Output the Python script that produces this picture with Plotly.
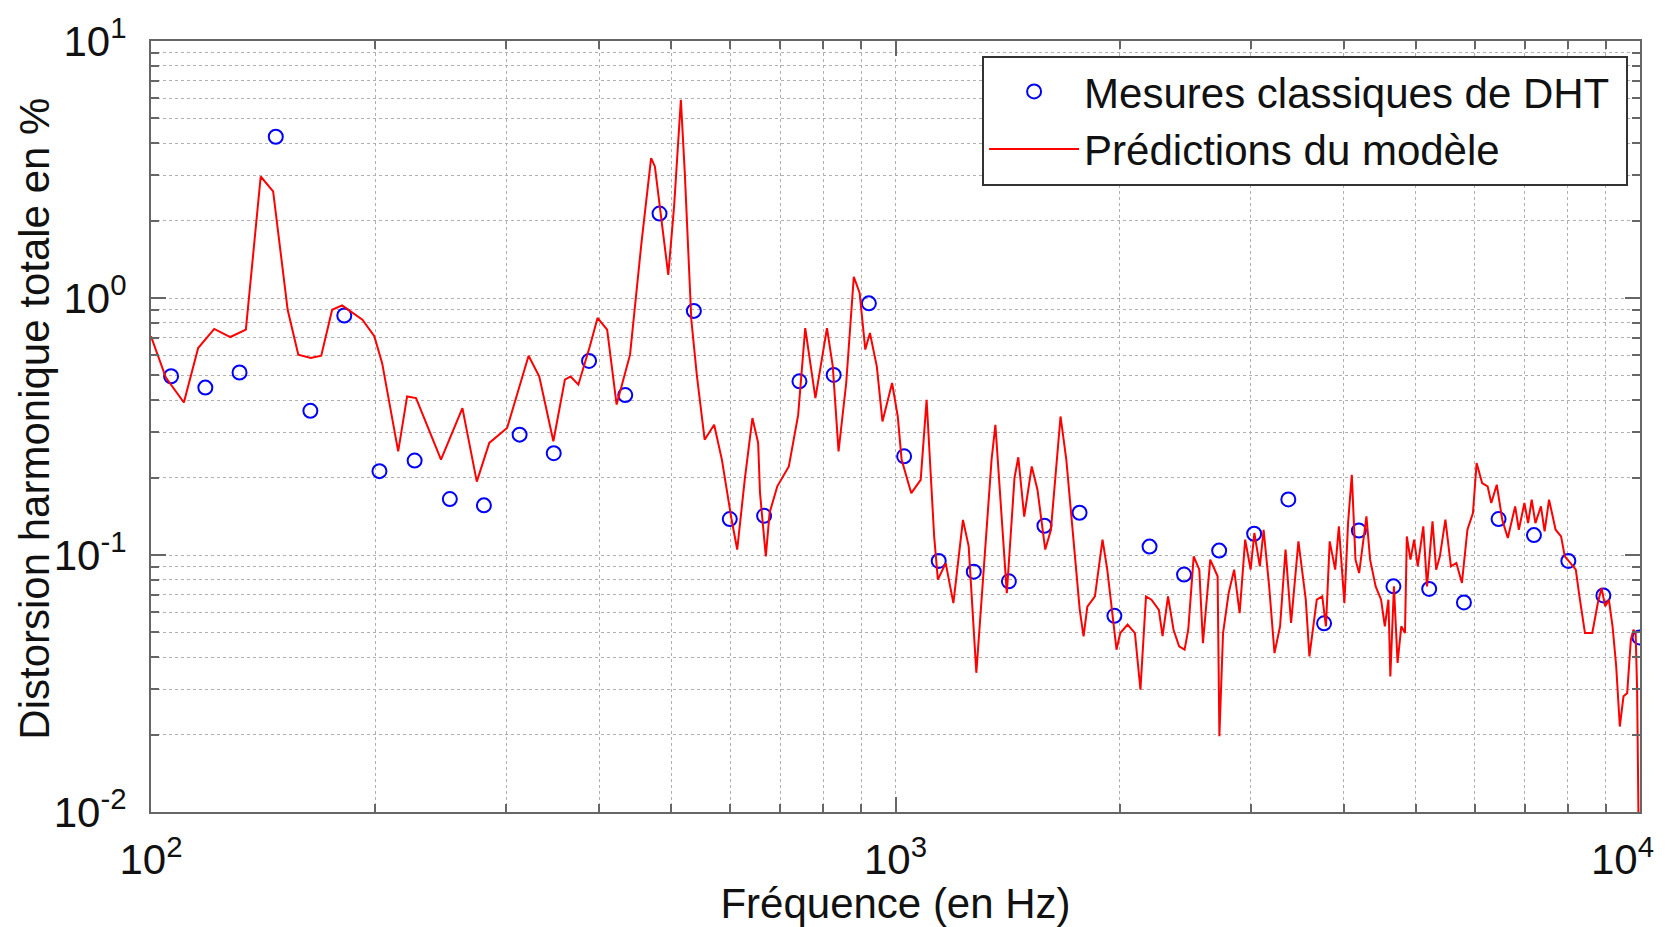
import plotly.graph_objects as go

# --- Data ---
meas_freq = [106.4, 118.3, 131.5, 147.1, 163.7, 181.8, 202.7, 226.0, 252.0, 280.0,
             312.7, 347.5, 387.6, 433.5, 482.0, 536.0, 599.0, 666.0, 743.0, 826.0,
             921.0, 1027, 1143, 1274, 1420, 1585, 1767, 1968, 2194, 2441,
             2721, 3032, 3370, 3764, 4192, 4665, 5210, 5801, 6457, 7204,
             8012, 8929, 9985]
meas_thd = [0.496, 0.448, 0.513, 4.24, 0.364, 0.855, 0.212, 0.233, 0.165, 0.156,
            0.294, 0.249, 0.569, 0.419, 2.13, 0.891, 0.138, 0.142, 0.474, 0.502,
            0.953, 0.242, 0.0948, 0.0861, 0.079, 0.130, 0.146, 0.058, 0.1078, 0.0839,
            0.104, 0.121, 0.1645, 0.0542, 0.1245, 0.0755, 0.0738, 0.0654, 0.138, 0.1195,
            0.0948, 0.0696, 0.0478]

model_freq = [100, 104.7, 110.7, 115.7, 121.6, 127.8, 134.1, 140.4, 145.9, 152.6,
              157.7, 163.9, 169.3, 175.1, 180.6, 192.3, 199.5, 204.4, 214.8, 220.8,
              227.0, 236.0, 245.2, 262.0, 273.9, 284.7, 300.8, 321.5, 332.3, 347.1,
              359.7, 366.1, 375.0, 388.5, 397.9, 409.9, 422.1, 440.0, 455.8, 469.6,
              475.1, 495.2, 504.2, 514.9, 521.2, 531.8, 541.2, 554.2, 570.7, 584.5,
              601.9, 612.9, 627.3, 642.4, 653.9, 657.7, 669.6, 677.5, 693.8, 719.0,
              740.0, 756.4, 780.6, 809.0, 823.7, 838.5, 858.6, 879.0, 895.0, 910.8,
              924.0, 943.8, 960.5, 989.5, 1007, 1019, 1050, 1081, 1101, 1127,
              1140, 1168, 1196, 1232, 1254, 1284, 1315, 1346, 1362, 1385,
              1411, 1445, 1462, 1489, 1524, 1551, 1589, 1617, 1666, 1696,
              1726, 1768, 1789, 1810, 1853, 1897, 1925, 1981, 2004, 2050,
              2097, 2133, 2170, 2207, 2258, 2284, 2323, 2363, 2404, 2445,
              2473, 2515, 2559, 2588, 2647, 2708, 2723, 2754, 2802, 2850,
              2899, 2949, 2999, 3034, 3086, 3122, 3176, 3229, 3285, 3341,
              3399, 3477, 3557, 3597, 3680, 3743, 3786, 3830, 3896, 3940,
              4008, 4054, 4101, 4148, 4195, 4243, 4291, 4340, 4415, 4490,
              4542, 4593, 4620, 4672, 4725, 4779, 4834, 4862, 4917, 4973,
              5029, 5116, 5175, 5264, 5324, 5385, 5478, 5572, 5667, 5765,
              5864, 5965, 6033, 6137, 6242, 6313, 6421, 6531, 6644, 6797,
              6875, 6994, 7074, 7154, 7236, 7361, 7445, 7548, 7703, 7834,
              7924, 8060, 8199, 8292, 8435, 8628, 8777, 8878, 8980, 9082,
              9186, 9290, 9395, 9502, 9611, 9721, 9799, 9866, 9911, 9960]
model_thd = [0.71, 0.49, 0.392, 0.639, 0.758, 0.705, 0.753, 2.97, 2.60, 0.90,
             0.602, 0.584, 0.596, 0.90, 0.936, 0.823, 0.71, 0.558, 0.253, 0.414,
             0.408, 0.307, 0.235, 0.373, 0.193, 0.273, 0.312, 0.596, 0.495, 0.277,
             0.481, 0.495, 0.46, 0.648, 0.836, 0.753, 0.385, 0.602, 1.64, 3.50,
             3.25, 1.23, 2.27, 5.91, 3.06, 0.823, 0.495, 0.281, 0.321, 0.235,
             0.139, 0.105, 0.196, 0.341, 0.273, 0.174, 0.0988, 0.146, 0.185, 0.221,
             0.35, 0.764, 0.408, 0.764, 0.542, 0.253, 0.467, 1.21, 1.046, 0.63,
             0.731, 0.542, 0.331, 0.467, 0.346, 0.235, 0.174, 0.196, 0.402, 0.118,
             0.0802, 0.093, 0.065, 0.137, 0.108, 0.0348, 0.096, 0.235, 0.321, 0.15,
             0.071, 0.2, 0.24, 0.141, 0.221, 0.18, 0.105, 0.125, 0.346, 0.235,
             0.133, 0.0612, 0.0482, 0.063, 0.069, 0.1148, 0.0877, 0.0428, 0.0497, 0.0536,
             0.0497, 0.0299, 0.069, 0.067, 0.0612, 0.0483, 0.069, 0.0512, 0.0441, 0.0428,
             0.0512, 0.0988, 0.0877, 0.0454, 0.0959, 0.0826, 0.0197, 0.0497, 0.0711, 0.0877,
             0.0594, 0.1147, 0.0877, 0.1218, 0.0903, 0.1254, 0.0755, 0.0415, 0.0528, 0.1049,
             0.0544, 0.113, 0.067, 0.0403, 0.067, 0.069, 0.0528, 0.113, 0.0877, 0.1292,
             0.065, 0.1331, 0.2053, 0.0959, 0.0851, 0.1113, 0.1413, 0.0959, 0.0755, 0.067,
             0.0528, 0.067, 0.0337, 0.0755, 0.038, 0.0528, 0.0497, 0.1181, 0.0959, 0.1147,
             0.0903, 0.1292, 0.0755, 0.1351, 0.0877, 0.0988, 0.1372, 0.0903, 0.0931, 0.0778,
             0.1254, 0.1456, 0.2279, 0.1905, 0.1849, 0.1593, 0.1877, 0.1372, 0.1164, 0.1546,
             0.1254, 0.1593, 0.1331, 0.1641, 0.1331, 0.1546, 0.1236, 0.1641, 0.1254, 0.1181,
             0.0988, 0.0931, 0.0877, 0.069, 0.0497, 0.0497, 0.065, 0.0744, 0.0631, 0.067,
             0.0528, 0.0369, 0.0215, 0.0282, 0.029, 0.0468, 0.0512, 0.0497, 0.03, 0.008]

NBSP = "\u00a0"
x_tickvals = [100, 1000, 10000]
# last label padded so that it stays inside the page, as in the reference
x_ticktext = ["10<sup>2</sup>", "10<sup>3</sup>", "10<sup>4</sup>" + NBSP * 3]
y_tickvals = [0.01, 0.1, 1, 10]
y_ticktext = ["10<sup>-2</sup>", "10<sup>-1</sup>", "10<sup>0</sup>", "10<sup>1</sup>"]

x_minor = [m * d for d in (100, 1000) for m in range(2, 10)]
y_minor = [m * d for d in (0.01, 0.1, 1) for m in range(2, 10)]

FONT = "Liberation Sans, Arial, sans-serif"
TEXT_COLOR = "#111111"
AXIS_COLOR = "#666666"
GRID_COLOR = "#b0b0b0"

fig = go.Figure()
fig.add_trace(go.Scatter(
    x=meas_freq, y=meas_thd, mode="markers",
    name="Mesures classiques de DHT" + NBSP,
    marker=dict(symbol="circle-open", size=14, color="#0000ff",
                line=dict(width=2, color="#0000ff")),
))
fig.add_trace(go.Scatter(
    x=model_freq, y=model_thd, mode="lines",
    name="Prédictions du modèle",
    line=dict(color="#ff0000", width=2),
))

axis_common = dict(
    showline=True, linecolor=AXIS_COLOR, linewidth=2, mirror="allticks",
    ticks="inside", ticklen=15, tickwidth=1.5, tickcolor=AXIS_COLOR,
    showgrid=True, gridcolor=GRID_COLOR, griddash="dot", gridwidth=1,
    zeroline=False, tickfont=dict(family=FONT, size=42, color=TEXT_COLOR),
)

fig.update_xaxes(
    type="log", range=[2, 4], tickmode="array",
    tickvals=x_tickvals, ticktext=x_ticktext,
    minor=dict(tickmode="array", tickvals=x_minor, ticks="inside", ticklen=8,
               tickcolor=AXIS_COLOR, showgrid=True, gridcolor=GRID_COLOR,
               griddash="dot", gridwidth=1),
    title=dict(text="Fréquence (en Hz)", font=dict(family=FONT, size=42, color=TEXT_COLOR),
               standoff=10),
    ticklabelstandoff=10, automargin=False, ticklabeloverflow="allow",
    **axis_common,
)
fig.update_yaxes(
    type="log", range=[-2, 1], tickmode="array",
    tickvals=y_tickvals, ticktext=y_ticktext,
    minor=dict(tickmode="array", tickvals=y_minor, ticks="inside", ticklen=8,
               tickcolor=AXIS_COLOR, showgrid=True, gridcolor=GRID_COLOR,
               griddash="dot", gridwidth=1),
    ticklabelstandoff=14, automargin=False, ticklabeloverflow="allow",
    **axis_common,
)

# y-axis title placed as an annotation so its distance from the tick labels matches
fig.add_annotation(
    text="Distorsion harmonique totale en %", textangle=-90,
    xref="paper", yref="paper", x=-0.078, y=0.51,
    xanchor="center", yanchor="middle", showarrow=False,
    font=dict(family=FONT, size=42, color=TEXT_COLOR),
)

fig.update_layout(
    width=1676, height=927,
    margin=dict(l=151, r=36, t=41, b=115),
    paper_bgcolor="white", plot_bgcolor="white",
    font=dict(family=FONT, size=42, color=TEXT_COLOR),
    showlegend=True,
    legend=dict(
        x=0.992, y=0.981, xanchor="right", yanchor="top",
        bgcolor="white", bordercolor="#333333", borderwidth=2,
        font=dict(family=FONT, size=42, color=TEXT_COLOR),
        itemwidth=90, tracegroupgap=0,
    ),
)

fig.write_html("out.html")
